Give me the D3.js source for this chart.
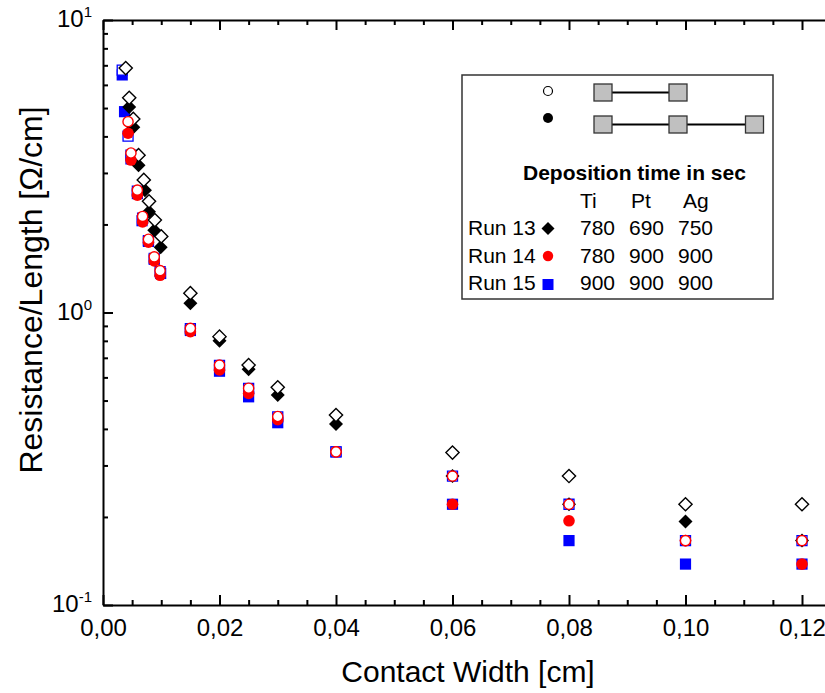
<!DOCTYPE html>
<html><head><meta charset="utf-8">
<script src="https://cdn.jsdelivr.net/npm/d3@7"></script>
<style>
html,body{margin:0;padding:0;background:#fff;}
svg{display:block;}
text{font-family:"Liberation Sans",Arial,Helvetica,sans-serif;fill:#000;}
</style></head>
<body>
<svg id="chart" width="825" height="693"></svg>
<script>
// ---------------- data ----------------
// Run 13 (diamonds): open = 2-contact structure, filled = 3-contact structure
const run13OpenX  = [0.0039,0.0045,0.0052,0.0061,0.0070,0.0079,0.0089,0.0100,0.015,0.020,0.025,0.030,0.040,0.060,0.080,0.100,0.120];
const run13OpenY  = [6.85,5.42,4.59,3.45,2.84,2.40,2.07,1.82,1.164,0.827,0.661,0.555,0.446,0.332,0.276,0.221,0.221];
const run13FillX  = [0.0045,0.0052,0.0061,0.0072,0.0079,0.0088,0.0099,0.015,0.020,0.025,0.030,0.040,0.060,0.080,0.100,0.120];
const run13FillY  = [5.04,4.30,3.19,2.62,2.21,1.91,1.67,1.075,0.801,0.640,0.522,0.416,0.276,0.221,0.193,0.166];
// Run 14 (circles)
const run14OpenX  = [0.0043,0.0048,0.0059,0.0068,0.0078,0.0088,0.0098,0.015,0.020,0.025,0.030,0.040,0.060,0.080,0.100,0.120];
const run14OpenY  = [4.49,3.51,2.62,2.13,1.78,1.55,1.39,0.883,0.661,0.551,0.441,0.334,0.276,0.221,0.166,0.166];
const run14FillX  = [0.0043,0.0048,0.0059,0.0068,0.0078,0.0088,0.0098,0.015,0.020,0.025,0.030,0.040,0.060,0.080,0.100,0.120];
const run14FillY  = [4.10,3.32,2.52,2.04,1.74,1.50,1.34,0.86,0.636,0.529,0.43,0.334,0.221,0.194,0.166,0.138];
// Run 15 (squares)
const run15OpenX  = [0.0033,0.0043,0.0048,0.0059,0.0068,0.0078,0.0088,0.0098,0.015,0.020,0.025,0.030,0.040,0.060,0.080,0.100,0.120];
const run15OpenY  = [6.74,4.01,3.45,2.60,2.10,1.76,1.53,1.38,0.88,0.66,0.55,0.44,0.334,0.276,0.221,0.166,0.166];
const run15FillX  = [0.0033,0.0037,0.0048,0.0059,0.0067,0.0078,0.0088,0.0099,0.015,0.020,0.025,0.030,0.040,0.060,0.080,0.100,0.120];
const run15FillY  = [6.49,4.86,3.35,2.55,2.06,1.75,1.52,1.36,0.868,0.63,0.515,0.420,0.334,0.221,0.166,0.138,0.138];

const xMajorTicks = [0,0.02,0.04,0.06,0.08,0.10,0.12];
const xTickLabels = ["0,00","0,02","0,04","0,06","0,08","0,10","0,12"];
const yMajorTicks = [0.1,1,10];
const yTickExps   = ["-1","0","1"];

const legendRuns   = ["Run 13","Run 14","Run 15"];
const legendCols   = ["Ti","Pt","Ag"];
const legendTimes  = [[780,690,750],[780,900,900],[900,900,900]];

(function(){
// ---------------- layout ----------------
const svg = d3.select("#chart");
const leftX = 103, topY = 20, bottomY = 605;
const pxPerUnit = (802 - leftX) / 0.12;
const xMax = (826 - leftX) / pxPerUnit;

const x = d3.scaleLinear().domain([0, xMax]).range([leftX, leftX + xMax * pxPerUnit]);
const y = d3.scaleLog().domain([0.1, 10]).range([bottomY, topY]);

svg.append("rect").attr("width",825).attr("height",693).attr("fill","#fff");

const xMinor = d3.range(0, 0.1201, 0.005).filter(v => Math.abs(v/0.02 - Math.round(v/0.02)) > 1e-6);
const yMinor = [];
[0.1,1].forEach(b => { for (let k = 2; k <= 9; k++) yMinor.push(b*k); });

function styleAxis(g){
  g.selectAll("path.domain").attr("stroke","#000").attr("stroke-width",2);
  g.selectAll(".tick line").attr("stroke","#000").attr("stroke-width",2);
}

// bottom axis
const gB = svg.append("g").attr("transform",`translate(0,${bottomY})`)
  .call(d3.axisBottom(x).tickValues(xMajorTicks).tickSize(-10).tickSizeOuter(0).tickPadding(14)
    .tickFormat((d,i) => xTickLabels[i]));
gB.selectAll("text").attr("font-size",24).style("font-family",'"Liberation Sans",Arial,sans-serif');
styleAxis(gB);
const gBm = svg.append("g").attr("transform",`translate(0,${bottomY})`)
  .call(d3.axisBottom(x).tickValues(xMinor).tickSize(-5).tickSizeOuter(0).tickFormat(""));
gBm.select("path.domain").remove(); styleAxis(gBm);

// top axis
const gT = svg.append("g").attr("transform",`translate(0,${topY})`)
  .call(d3.axisTop(x).tickValues(xMajorTicks).tickSize(-10).tickSizeOuter(0).tickFormat(""));
styleAxis(gT);
const gTm = svg.append("g").attr("transform",`translate(0,${topY})`)
  .call(d3.axisTop(x).tickValues(xMinor).tickSize(-5).tickSizeOuter(0).tickFormat(""));
gTm.select("path.domain").remove(); styleAxis(gTm);

// left axis
const gL = svg.append("g").attr("transform",`translate(${leftX},0)`)
  .call(d3.axisLeft(y).tickValues(yMajorTicks).tickSize(-10).tickSizeOuter(0).tickFormat(""));
styleAxis(gL);
const gLm = svg.append("g").attr("transform",`translate(${leftX},0)`)
  .call(d3.axisLeft(y).tickValues(yMinor).tickSize(-5).tickSizeOuter(0).tickFormat(""));
gLm.select("path.domain").remove(); styleAxis(gLm);

// y tick labels with superscripts
yMajorTicks.forEach((v,i) => {
  const t = svg.append("text").attr("x", 92).attr("y", y(v) + 7)
    .attr("text-anchor","end").attr("font-size",24);
  t.append("tspan").text("10");
  t.append("tspan").attr("font-size",15).attr("dy",-10).text(yTickExps[i]);
});

// axis titles
svg.append("text").attr("x", 468).attr("y", 682).attr("text-anchor","middle")
  .attr("font-size",30).text("Contact Width [cm]");
svg.append("text").attr("transform",`translate(42,290) rotate(-90)`)
  .attr("text-anchor","middle").attr("font-size",32).text("Resistance/Length [Ω/cm]");

// ---------------- markers ----------------
const plot = svg.append("g");
function zip(xs, ys){ return xs.map((v,i) => ({x:v, y:ys[i]})); }

function drawSquares(data, filled){
  plot.append("g").selectAll("path").data(data).join("path")
    .attr("transform", d => `translate(${x(d.x)},${y(d.y)})`)
    .attr("d", filled ? "M-5.6,-5.6H5.6V5.6H-5.6Z" : "M-5,-5H5V5H-5Z")
    .attr("fill", filled ? "#0000ff" : "#fff")
    .attr("stroke", "#0000ff").attr("stroke-width", filled ? 0 : 1.3);
}
function drawDiamonds(data, filled){
  plot.append("g").selectAll("path").data(data).join("path")
    .attr("transform", d => `translate(${x(d.x)},${y(d.y)})`)
    .attr("d", filled ? "M0,-7L7,0L0,7L-7,0Z" : "M0,-6.6L6.6,0L0,6.6L-6.6,0Z")
    .attr("fill", filled ? "#000" : "#fff")
    .attr("stroke", "#000").attr("stroke-width", filled ? 0 : 1.4);
}
function drawCircles(data, filled){
  plot.append("g").selectAll("circle").data(data).join("circle")
    .attr("cx", d => x(d.x)).attr("cy", d => y(d.y))
    .attr("r", filled ? 5.8 : 5.1)
    .attr("fill", filled ? "#ff0000" : "#fff")
    .attr("stroke", "#ff0000").attr("stroke-width", filled ? 0 : 1.4);
}
drawSquares(zip(run15FillX, run15FillY), true);
drawSquares(zip(run15OpenX, run15OpenY), false);
drawDiamonds(zip(run13FillX, run13FillY), true);
drawDiamonds(zip(run13OpenX, run13OpenY), false);
drawCircles(zip(run14FillX, run14FillY), true);
drawCircles(zip(run14OpenX, run14OpenY), false);

// ---------------- legend ----------------
const lg = svg.append("g");
lg.append("rect").attr("x",462).attr("y",75).attr("width",311).attr("height",224)
  .attr("fill","#fff").attr("stroke","#333").attr("stroke-width",1.5);
lg.append("circle").attr("cx",548).attr("cy",91).attr("r",4.5).attr("fill","#fff").attr("stroke","#000").attr("stroke-width",1.2);
lg.append("circle").attr("cx",548).attr("cy",118).attr("r",5).attr("fill","#000");
function contactRow(cy, xs){
  lg.append("line").attr("x1",xs[0]).attr("x2",xs[xs.length-1]).attr("y1",cy).attr("y2",cy)
    .attr("stroke","#000").attr("stroke-width",2);
  xs.forEach(cx => lg.append("rect").attr("x",cx-9).attr("y",cy-8.5).attr("width",18).attr("height",17)
    .attr("fill","#c0c0c0").attr("stroke","#333").attr("stroke-width",1.3));
}
contactRow(92.5, [603,678]);
contactRow(124.5, [603,678,754.5]);

lg.append("text").attr("x",523).attr("y",180).attr("font-size",21).attr("font-weight","bold")
  .text("Deposition time in sec");
const colX = [580,631,683];
legendCols.forEach((c,i) => lg.append("text").attr("x",colX[i]).attr("y",208).attr("font-size",21).text(c));
const valX = [580,629,678];
const rowY = [235,263,290];
legendRuns.forEach((r,i) => {
  lg.append("text").attr("x",468).attr("y",rowY[i]).attr("font-size",21).text(r);
  legendTimes[i].forEach((v,j) => lg.append("text").attr("x",valX[j]).attr("y",rowY[i]).attr("font-size",21).text(v));
});
lg.append("path").attr("transform","translate(548,228.5)").attr("d","M0,-6.5L6.5,0L0,6.5L-6.5,0Z").attr("fill","#000");
lg.append("circle").attr("cx",548).attr("cy",256).attr("r",5.2).attr("fill","#ff0000");
lg.append("rect").attr("x",542.5).attr("y",279).attr("width",11).attr("height",11).attr("fill","#0000ff");
})();
</script>
</body></html>
